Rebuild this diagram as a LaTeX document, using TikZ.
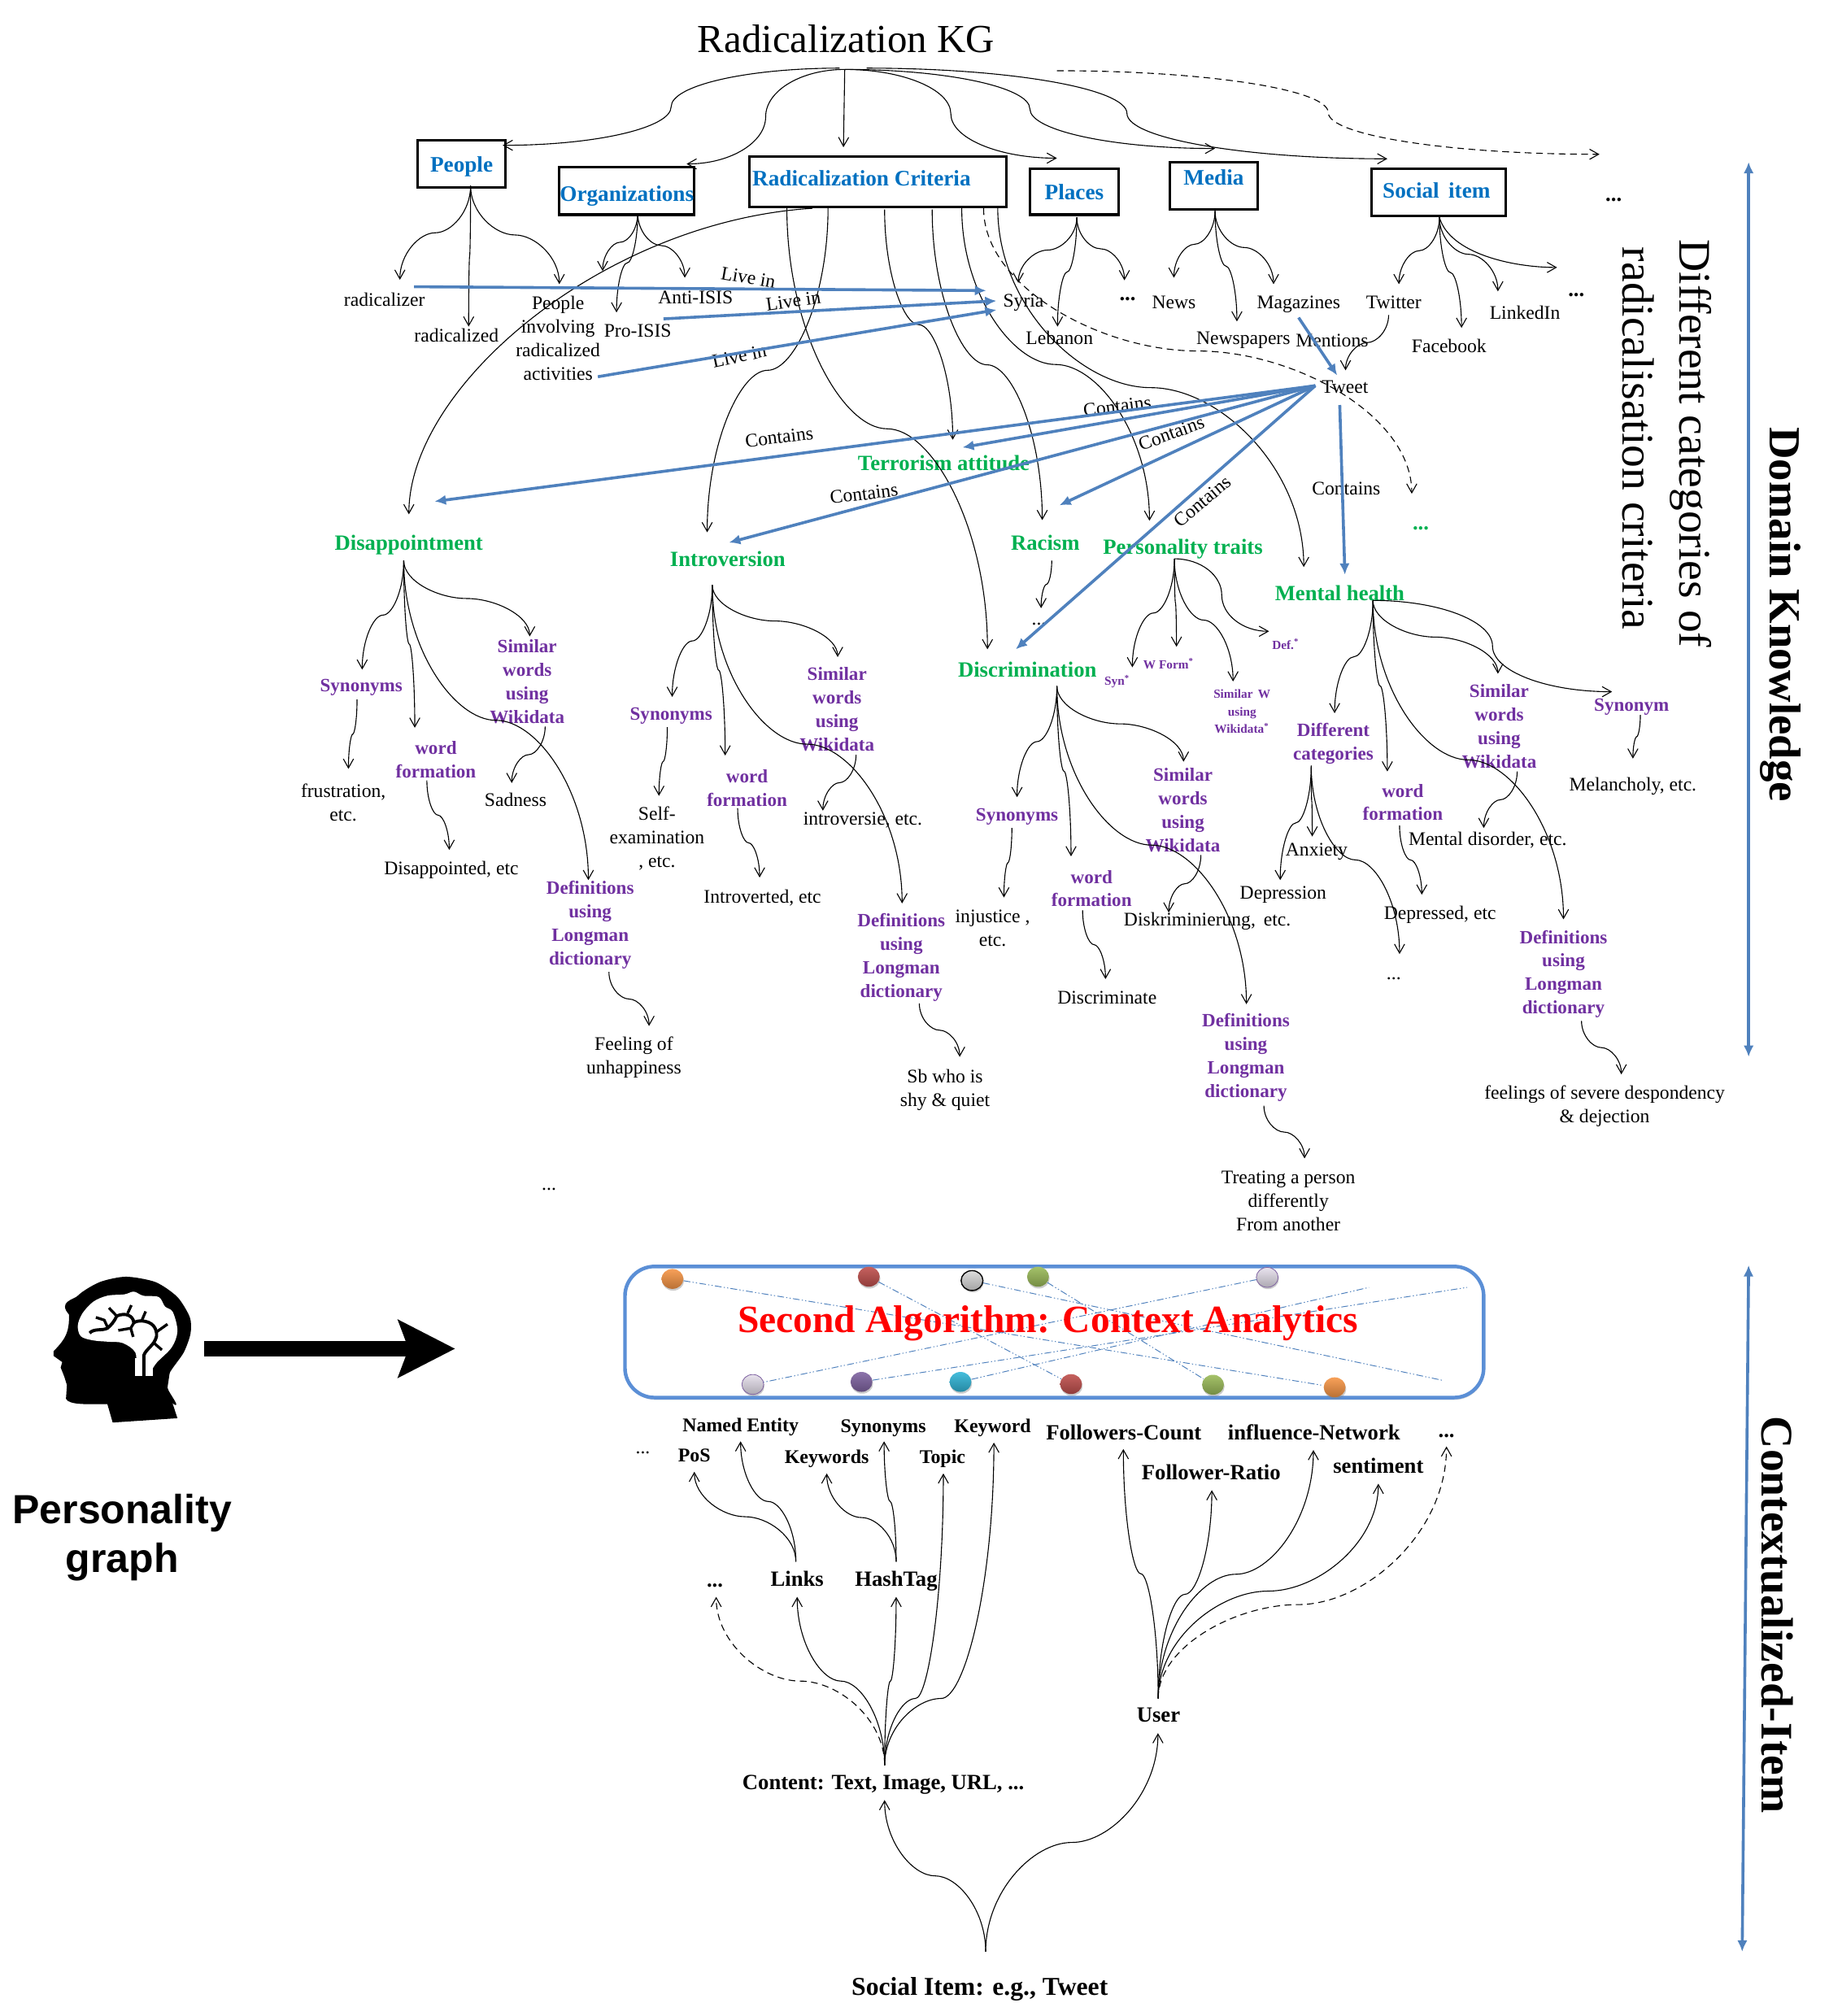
\documentclass[tikz,border=0pt]{standalone}
\usepackage{fontspec}
\setmainfont{Liberation Serif}
\newfontfamily\headfont{Liberation Sans}
\usetikzlibrary{calc,arrows.meta,shapes.geometric,shadows}
\definecolor{catblue}{HTML}{0070C0}
\definecolor{critgreen}{HTML}{00B050}
\definecolor{subpurple}{HTML}{7030A0}
\definecolor{arrowblue}{HTML}{4F81BD}
\definecolor{framblue}{HTML}{5B8FD6}
\definecolor{beadorange}{HTML}{F79646}
\definecolor{beadred}{HTML}{C0504D}
\definecolor{beadgreen}{HTML}{9BBB59}
\definecolor{beadpurple}{HTML}{8064A2}
\definecolor{beadcyan}{HTML}{31B6D8}
\definecolor{beadlilac}{HTML}{E6E0EC}
\definecolor{beadgrey}{HTML}{D9D9D9}
\newcommand{\vvia}[4][]{%
\path (#2) coordinate (s) (#3) coordinate (m) (#4) coordinate (e);
\draw [link,#1] (s) .. controls ($(s)!.55!(s |- m)$) and ($(m)!.45!(s |- m)$) .. (m) .. controls ($(m)!.45!(e |- m)$) and ($(e)!.55!(e |- m)$) .. (e);}
\newcommand{\vlink}[3][]{\vvia[#1]{#2}{$(#2)!.5!(#3)$}{#3}}
\newcommand{\hlink}[3][]{%
\path (#2) coordinate (s) (#3) coordinate (e) ($(s)!.5!(e)$) coordinate (m);
\draw [link,#1] (s) .. controls ($(s)!.55!(m |- s)$) and ($(m)!.55!(m |- s)$) .. (m) .. controls ($(m)!.55!(m |- e)$) and ($(e)!.55!(m |- e)$) .. (e);}
\begin{document}
\begin{tikzpicture}[x=0.02cm,y=0.02cm]
\tikzstyle{every node}+=[inner sep=0pt]
\tikzstyle{link}=[black,line width=0.4pt,-{Straight Barb[length=4pt,width=4.5pt]}]
\tikzstyle{bluearrow}=[arrowblue,line width=1.3pt,-{Latex[length=5pt,width=4.5pt]}]
\tikzstyle{term}=[align=center,text depth=0pt,font=\fontsize{8.5}{10.4}\selectfont]
\tikzstyle{rel}=[font=\fontsize{8.5}{10.4}\selectfont]
\tikzstyle{subterm}=[align=center,text depth=0pt,text=subpurple,font=\bfseries\fontsize{8.3}{10.4}\selectfont]
\tikzstyle{minor}=[align=center,text=subpurple,font=\bfseries\fontsize{5.5}{7.7}\selectfont]
\tikzstyle{crit}=[text depth=0pt,text=critgreen,font=\bfseries\fontsize{9.6}{11}\selectfont]
\tikzstyle{catbox}=[draw=black,line width=1.1pt,text depth=0pt,text=catblue,font=\bfseries\fontsize{9.8}{11}\selectfont]
\tikzstyle{small}=[text depth=0pt,font=\bfseries\fontsize{8.6}{10}\selectfont]
\tikzstyle{large}=[text depth=0pt,font=\bfseries\fontsize{9.6}{11}\selectfont]
\tikzstyle{side}=[rotate=-90,font=\fontsize{20}{22}\selectfont]
\tikzstyle{bead}=[ellipse,minimum width=0.34cm,minimum height=0.31cm,top color=#1!90!white,bottom color=#1!75!black,drop shadow={shadow xshift=0.3pt,shadow yshift=-0.8pt,opacity=0.4}]
\tikzstyle{thread}=[arrowblue,line width=0.35pt,dash pattern=on 3pt off 1pt on 0.5pt off 1pt on 0.5pt off 1pt]
\useasboundingbox (0,0) rectangle (1422,-1568);
\node [font=\fontsize{17.6}{20}\selectfont] (kg) at (658,-30) {Radicalization KG};
\node [catbox,minimum width=1.36cm,minimum height=0.74cm] (people) at (359,-127.5) {People};
\node [catbox,minimum width=2.1cm,minimum height=0.74cm] (org) at (487.5,-148.5) {\raisebox{-2pt}{Organizations}};
\node [catbox,minimum width=4cm,minimum height=0.78cm] (rc) at (683,-141.5) {\raisebox{3pt}{Radicalization Criteria\hspace{14.7pt}}};
\node [catbox,minimum width=1.38cm,minimum height=0.72cm] (places) at (835.5,-149) {Places};
\node [catbox,minimum width=1.36cm,minimum height=0.74cm] (media) at (944,-144.5) {\raisebox{7.5pt}{Media}};
\node [catbox,minimum width=2.08cm,minimum height=0.74cm] (social) at (1119,-149.5) {\raisebox{2pt}{Social\, item\hspace{2pt}}};
\node [large] (kgmore) at (1255,-155) {...};
\node [term] (radicalizer) at (299,-233) {radicalizer};
\node [term] (radicalized) at (355,-261) {radicalized};
\node [term] (peopleact) at (434,-263) {People\\involving\\radicalized\\activities};
\node [term] (antiisis) at (541,-231) {Anti-ISIS};
\node [term] (proisis) at (496,-257) {Pro-ISIS};
\node [term] (syria) at (796,-234) {Syria};
\node [term] (lebanon) at (824,-263) {Lebanon};
\node [large] (placesmore) at (877,-232.5) {...};
\node [term] (news) at (913,-235) {News};
\node [term] (newspapers) at (967,-263) {Newspapers};
\node [term] (magazines) at (1010,-235) {Magazines};
\node [term] (mentions) at (1036,-265) {Mentions};
\node [term] (twitter) at (1084,-235) {Twitter};
\node [term] (facebook) at (1127,-269) {Facebook};
\node [term] (linkedin) at (1186,-243) {LinkedIn};
\node [large] (socialmore) at (1226,-229) {...};
\node [term] (tweet) at (1046,-301) {Tweet};
\node [rel,rotate=-10] (livea) at (582,-216) {Live in};
\node [rel,rotate=8] (liveb) at (617,-234) {Live in};
\node [rel,rotate=12] (livec) at (575,-277) {Live in};
\node [rel,rotate=7] (containa) at (869,-316) {Contains};
\node [rel,rotate=20] (containb) at (911,-337) {Contains};
\node [rel,rotate=7] (containc) at (606,-340) {Contains};
\node [rel,rotate=7] (containd) at (672,-384) {Contains};
\node [rel,rotate=40] (containe) at (935,-390) {Contains};
\node [rel] (containf) at (1047,-380) {Contains};
\node [crit] (terror) at (734,-360) {Terrorism attitude};
\node [crit] (dis) at (318,-422) {Disappointment};
\node [crit] (intro) at (566,-435) {Introversion};
\node [crit] (racism) at (813,-422) {Racism};
\node [crit] (pers) at (920,-425) {Personality traits};
\node [crit] (dsc) at (799,-521) {Discrimination};
\node [crit] (mental) at (1042,-461) {Mental health};
\node [crit] (critmore) at (1105,-411) {...};
\node [subterm] (dissim) at (410,-530) {Similar\\words\\using\\Wikidata};
\node [subterm] (dissyn) at (281,-533) {Synonyms};
\node [subterm] (disword) at (339,-591) {word\\formation};
\node [subterm] (disdef) at (459,-718) {Definitions\\using\\Longman\\dictionary};
\node [term] (disfrus) at (267,-624) {frustration,\\etc.};
\node [term] (dissad) at (401,-622) {Sadness};
\node [term] (disform) at (351,-675) {Disappointed, etc};
\node [term] (disfeel) at (493,-821) {Feeling of\\unhappiness};
\node [subterm] (intsim) at (651,-551.5) {Similar\\words\\using\\Wikidata};
\node [subterm] (intsyn) at (522,-555) {Synonyms};
\node [subterm] (intword) at (581,-613) {word\\formation};
\node [subterm] (intdef) at (701,-743) {Definitions\\using\\Longman\\dictionary};
\node [term] (intself) at (511,-651) {Self-\\examination\\, etc.};
\node [term] (intrel) at (671,-637) {introversie, etc.};
\node [term] (intform) at (593,-697) {Introverted, etc};
\node [term] (intshy) at (735,-846) {Sb who is\\shy \& quiet};
\node [subterm] (dscsim) at (920,-630) {Similar\\words\\using\\Wikidata};
\node [subterm] (dscsyn) at (791,-634) {Synonyms};
\node [subterm] (dscword) at (849,-691) {word\\formation};
\node [subterm] (dscdef) at (969,-821) {Definitions\\using\\Longman\\dictionary};
\node [term] (dscinj) at (772,-722) {injustice ,\\etc.};
\node [term] (dscsub) at (939,-715) {Diskriminierung,\, etc.};
\node [term] (dscform) at (861,-776) {Discriminate};
\node [term] (dsctreat) at (1002,-934) {Treating a person\\differently\\From another};
\node [term] (racmore) at (808,-485) {...};
\node [minor] (persyn) at (869,-530) {Syn\textsuperscript{*}};
\node [minor] (perform) at (909,-516) {W Form\textsuperscript{*}};
\node [minor] (perdef) at (1000,-501) {Def.\textsuperscript{*}};
\node [minor] (persim) at (966,-553.5) {Similar\, W\\using\\Wikidata\textsuperscript{*}};
\node [subterm] (mhcat) at (1037,-577) {Different\\categories};
\node [subterm] (mhword) at (1091,-624) {word\\formation};
\node [subterm] (mhsim) at (1166,-565) {Similar\\words\\using\\Wikidata};
\node [subterm] (mhsyn) at (1269,-548) {Synonym};
\node [subterm] (mhdef) at (1216,-756) {Definitions\\using\\Longman\\dictionary};
\node [term] (melan) at (1270,-610) {Melancholy, etc.};
\node [term] (mhdis) at (1157,-652) {Mental disorder, etc.};
\node [term] (anxiety) at (1024,-661) {Anxiety};
\node [term] (depression) at (998,-694) {Depression};
\node [term] (depressed) at (1120,-710) {Depressed, etc};
\node [term] (catmore) at (1084,-761) {...};
\node [term] (mhfeel) at (1248,-859) {feelings of severe despondency\\\& dejection};
\node [term] (kbmore) at (427,-925) {...};
\node [side] (sidea) at (1315,-345) {Different categories of};
\node [side] (sideb) at (1274,-341) {radicalisation criteria};
\node [side,font=\bfseries\fontsize{19.7}{22}\selectfont] (sidec) at (1385,-478) {Domain Knowledge};
\node [side,font=\bfseries\fontsize{20}{22}\selectfont] (sided) at (1382,-1256) {Contextualized-Item};
\coordinate (kgbase) at (657,-54);
\coordinate (peoplebase) at (366,-144.5);
\coordinate (orgbase) at (496,-166);
\coordinate (placesbase) at (837.5,-169);
\coordinate (mediabase) at (945,-164);
\coordinate (socialbase) at (1119.5,-169);
\coordinate (tweetbase) at (1023,-300);
\coordinate (disbase) at (314,-436);
\coordinate (intbase) at (554,-455);
\coordinate (dscbase) at (822,-533.6);
\coordinate (perbase) at (913.4,-434.6);
\coordinate (mhbase) at (1067.8,-467);
\coordinate (catbase) at (1019.8,-595.6);
\hlink{$(kgbase)+(-4,1)$}{$(people)+(32,14.5)$}
\hlink{kgbase}{$(org)+(46.5,21)$}
\draw [link] (kgbase) -- ($(rc)+(-27,27)$);
\hlink{kgbase}{$(places)+(-13.5,26)$}
\hlink{kgbase}{$(media)+(1,29)$}
\hlink{$(kgbase)+(17,1)$}{$(social)+(-40,26)$}
\hlink[densely dashed]{$(kgbase)+(165,-1)$}{$(kgmore)+(-11,35)$}
\vlink{peoplebase}{$(radicalizer)+(12,15.4)$}
\vlink{peoplebase}{$(radicalized)+(9.5,7)$}
\vlink{peoplebase}{$(peopleact)+(1,42)$}
\vlink{orgbase}{$(peopleact)+(34.7,52.2)$}
\vlink{orgbase}{$(proisis)+(-16.5,14)$}
\vlink{orgbase}{$(antiisis)+(-8.4,15)$}
\vlink{placesbase}{$(syria)+(-4,14)$}
\vlink{placesbase}{$(lebanon)+(-1.5,9)$}
\vlink{placesbase}{$(placesmore)+(-2.5,14.5)$}
\vlink{mediabase}{$(news)+(0,19)$}
\vlink{mediabase}{$(newspapers)+(-5,13)$}
\vlink{mediabase}{$(magazines)+(-19.5,14)$}
\vlink{socialbase}{$(twitter)+(4,14)$}
\vlink{socialbase}{$(facebook)+(9.7,14)$}
\vlink{socialbase}{$(linkedin)+(-21,16.4)$}
\draw [link] (socialbase) .. controls ($(socialbase)+(8,-28)$) and ($(socialmore)+(-50,21)$) .. ($(socialmore)+(-15,21)$);
\vlink{$(twitter)+(-4,-10)$}{$(tweet)+(0.5,13)$}
\draw [link] ($(rc)+(-51,-20.5)$) .. controls (470,-172) and (318,-300) .. ($(dis)+(0,22)$);
\vlink{$(rc)+(-39,-20.5)$}{$(intro)+(-16,21)$}
\vlink{$(rc)+(-71,-20.5)$}{$(dsc)+(-31,16)$}
\vlink{$(rc)+(5,-21.5)$}{$(terror)+(7,18)$}
\vlink{$(rc)+(42,-21.5)$}{$(racism)+(-2.4,17.5)$}
\vlink{$(rc)+(65,-20.5)$}{$(pers)+(-26,20)$}
\vlink{$(rc)+(93,-20.5)$}{$(mental)+(-28,20)$}
\vlink[densely dashed]{$(rc)+(82,-20.5)$}{$(critmore)+(-7,27)$}
\draw [bluearrow] ($(radicalizer)+(23,10)$) -- ($(syria)+(-29,8)$);
\draw [bluearrow] ($(proisis)+(20,9)$) -- ($(syria)+(-21,0)$);
\draw [bluearrow] ($(peopleact)+(31,-30)$) -- ($(syria)+(-21,-7)$);
\draw [bluearrow] ($(magazines)+(0,-12)$) -- ($(tweet)+(-6,9)$);
\draw [bluearrow] (tweetbase) -- ($(dis)+(20,32)$);
\draw [bluearrow] (tweetbase) -- ($(intro)+(1,13)$);
\draw [bluearrow] (tweetbase) -- ($(terror)+(14.6,12)$);
\draw [bluearrow] (tweetbase) -- ($(racism)+(11,29)$);
\draw [bluearrow] (tweetbase) -- ($(dsc)+(-9,16)$);
\draw [bluearrow] ($(tweet)+(-4,-14)$) -- ($(mental)+(4,14)$);
\vlink{disbase}{$(dissyn)+(0.7,12.2)$}
\vlink{disbase}{$(disword)+(-16.4,25)$}
\vlink{disbase}{$(dissim)+(2,35)$}
\vlink{disbase}{$(disdef)+(-1.4,33.5)$}
\vlink{$(dissyn)+(-3.3,-11)$}{$(disfrus)+(4,26)$}
\vlink{$(disword)+(-7,-16)$}{$(disform)+(-1.6,14)$}
\vlink{$(dissim)+(14,-35)$}{$(dissad)+(-3,13)$}
\vlink{$(disdef)+(14.6,-38)$}{$(disfeel)+(11.8,23)$}
\vlink{intbase}{$(intsyn)+(0.8,13)$}
\vlink{intbase}{$(intword)+(-17,25.4)$}
\vlink{intbase}{$(intsim)+(0.5,40.5)$}
\vlink{intbase}{$(intdef)+(0.6,40.4)$}
\vlink{$(intsyn)+(-3,-10.6)$}{$(intself)+(1.5,32)$}
\vlink{$(intword)+(-7.3,-15.6)$}{$(intform)+(-2.2,14.5)$}
\vlink{$(intsim)+(14.8,-35.5)$}{$(intrel)+(-31,6.5)$}
\vlink{$(intdef)+(14,-37.5)$}{$(intshy)+(11.4,24)$}
\vlink{dscbase}{$(dscsyn)+(0,14)$}
\vlink{dscbase}{$(dscword)+(-16,25)$}
\vlink{dscbase}{$(dscsim)+(0.5,37.6)$}
\vlink{dscbase}{$(dscdef)+(0.4,40)$}
\vlink{$(dscsyn)+(-4,-10)$}{$(dscinj)+(8.8,24)$}
\vlink{$(dscword)+(-7,-17)$}{$(dscform)+(-1.2,14.5)$}
\vlink{$(dscsim)+(14,-35)$}{$(dscsub)+(-30,5.3)$}
\vlink{$(dscdef)+(14,-39)$}{$(dsctreat)+(12.6,33)$}
\vlink{$(racism)+(5,-14)$}{$(racmore)+(1.7,12)$}
\vlink{perbase}{$(persyn)+(11.7,11)$}
\vlink{perbase}{$(perform)+(6,13)$}
\vlink{perbase}{$(persim)+(-7,23.5)$}
\hlink{perbase}{$(perdef)+(-13,10)$}
\vlink{mhbase}{$(mhcat)+(1,22.3)$}
\vlink{mhbase}{$(mhword)+(-12,24)$}
\vlink{mhbase}{$(mhsim)+(-1,41)$}
\hlink{mhbase}{$(mhsyn)+(-15.2,10)$}
\vlink{mhbase}{$(mhdef)+(0,41)$}
\vlink{catbase}{$(anxiety)+(-3.4,10.4)$}
\vlink{catbase}{$(depression)+(-2.3,9.5)$}
\vlink{catbase}{$(catmore)+(4.5,19)$}
\vlink{$(mhword)+(-2.5,-18)$}{$(depressed)+(-14.2,14.2)$}
\vlink{$(mhsim)+(14,-35)$}{$(mhdis)+(-3,8)$}
\vlink{$(mhsyn)+(6.8,-8)$}{$(melan)+(0,20)$}
\vlink{$(mhdef)+(14,-38)$}{$(mhfeel)+(13,23.4)$}
\coordinate (domtop) at (1360,-126);
\coordinate (dombot) at (1360,-822);
\draw [bluearrow,{Latex[length=5pt,width=4.5pt]}-{Latex[length=5pt,width=4.5pt]}] (domtop) -- (dombot);
\coordinate (itemtop) at (1360,-984);
\coordinate (itembot) at (1355,-1518);
\draw [bluearrow,{Latex[length=5pt,width=4.5pt]}-{Latex[length=5pt,width=4.5pt]}] (itemtop) -- (itembot);
\node [draw=framblue,line width=1.6pt,rounded corners=0.46cm,fill=white,minimum width=13.36cm,minimum height=2.04cm,drop shadow={shadow xshift=0.3pt,shadow yshift=-1pt,opacity=0.35}] (algobox) at (820,-1036) {};
\node [bead=beadorange] (beada) at (523,-994.7) {};
\node [bead=beadred] (beadb) at (675.7,-993) {};
\node [bead=beadgrey,draw=black,line width=0.5pt] (beadc) at (756,-996) {};
\node [bead=beadgreen] (beadd) at (807.3,-993) {};
\node [bead=beadlilac,draw=beadpurple,line width=0.3pt] (beade) at (985.6,-993.5) {};
\node [bead=beadlilac,draw=beadpurple,line width=0.3pt] (beadf) at (585.5,-1076.8) {};
\node [bead=beadpurple] (beadg) at (670,-1074.8) {};
\node [bead=beadcyan] (beadh) at (747,-1074.8) {};
\node [bead=beadred] (beadi) at (833,-1076.5) {};
\node [bead=beadgreen] (beadj) at (943.4,-1077) {};
\node [bead=beadorange] (beadk) at (1038,-1079) {};
\coordinate (threadc) at (1123,-1073.8);
\coordinate (threadg) at (1141,-1001.3);
\coordinate (threadh) at (1064.7,-1001.3);
\draw [thread] (beada) -- (beadk);
\draw [thread] (beadb) -- (beadi);
\draw [thread] (beadc) -- (threadc);
\draw [thread] (beadd) -- (beadj);
\draw [thread] (beade) -- (beadf);
\draw [thread] (beadg) -- (threadg);
\draw [thread] (beadh) -- (threadh);
\node [text=red,font=\bfseries\fontsize{17.1}{19}\selectfont] (algotext) at (815,-1029) {Second Algorithm: Context Analytics};
\node [small] (ne) at (576,-1108) {Named Entity};
\node [small] (isyn) at (687,-1109) {Synonyms};
\node [small] (keyword) at (772,-1109) {Keyword};
\node [large] (fc) at (874,-1114) {Followers-Count};
\node [large] (inf) at (1022,-1114) {influence-Network};
\node [large] (umore) at (1125,-1116.5) {...};
\node [term] (posmore) at (500,-1130) {...};
\node [small] (pos) at (540,-1132) {PoS};
\node [small] (keywords) at (643,-1133) {Keywords};
\node [small] (topic) at (733,-1133) {Topic};
\node [large] (fr) at (942,-1145) {Follower-Ratio};
\node [large] (sent) at (1072,-1140) {sentiment};
\node [large] (lmore) at (556,-1233) {...};
\node [large] (links) at (620,-1228) {Links};
\node [large] (hash) at (697,-1228) {HashTag};
\node [large] (content) at (687,-1386) {Content: Text, Image, URL, ...};
\node [large] (user) at (901,-1334) {User};
\node [text depth=0pt,font=\bfseries\fontsize{11.4}{12}\selectfont] (item) at (762,-1545) {Social Item: e.g., Tweet};
\coordinate (itembase) at (766.6,-1518);
\coordinate (contentbase) at (688,-1373);
\coordinate (linksbase) at (619,-1214.6);
\coordinate (hashbase) at (697,-1214.6);
\coordinate (userbase) at (900.8,-1321);
\vlink{itembase}{$(content)+(1,-14)$}
\vlink{itembase}{$(user)+(-0.4,-14)$}
\vlink[densely dashed]{contentbase}{$(lmore)+(1,-9)$}
\vlink{contentbase}{$(links)+(0,-14)$}
\vlink{contentbase}{$(hash)+(0,-14)$}
\vvia{contentbase}{$(contentbase)+(24,52)$}{$(topic)+(0.7,-13)$}
\vvia{contentbase}{$(contentbase)+(44,52)$}{$(keyword)+(1,-13)$}
\vlink{linksbase}{$(pos)+(0,-12.7)$}
\vlink{linksbase}{$(ne)+(0,-13)$}
\vlink{hashbase}{$(keywords)+(0,-13)$}
\vlink{hashbase}{$(isyn)+(0.6,-12)$}
\vlink{userbase}{$(fc)+(-0.3,-13)$}
\vlink{userbase}{$(fr)+(0.5,-14)$}
\vlink{userbase}{$(inf)+(-0.5,-13.8)$}
\vlink{userbase}{$(sent)+(0,-14)$}
\vvia[densely dashed]{userbase}{$(userbase)+(109,73)$}{$(umore)+(0,-8.5)$}
\begin{scope}[shift={(0,-967.7)},xscale=0.2421,yscale=0.2108]
\fill [black] plot [smooth cycle,tension=0.45] coordinates {(222,-260) (250,-190) (320,-140) (405,-120) (500,-140) (570,-195) (610,-270) (612,-330) (590,-400) (545,-475) (538,-530) (552,-585)} -- cycle;
\fill [black] (222,-260) .. controls (222,-320) and (215,-345) .. (172,-395) -- (172,-412) -- (200,-435) -- (195,-455) -- (207,-490) -- (215,-520) -- (212,-570) .. controls (220,-595) and (290,-590) .. (345,-590) -- (362,-658) -- (570,-642) -- (538,-530) -- (545,-475) -- (400,-200) -- cycle;
\fill [white] plot [smooth cycle,tension=0.55] coordinates {(250,-300) (265,-255) (300,-212) (345,-190) (400,-185) (430,-175) (460,-190) (510,-195) (530,-230) (555,-250) (570,-320) (552,-380) (505,-435) (480,-470) (440,-470) (435,-400) (395,-365) (350,-360) (300,-355) (260,-340)};
\fill [white] (435,-420) rectangle (490,-487);
\draw [black,line width=1.4pt] (462,-487) -- (462,-410) .. controls (470,-385) and (495,-375) .. (503,-340) .. controls (505,-310) and (490,-285) .. (455,-283) .. controls (445,-283) and (435,-285) .. (430,-290) .. controls (428,-265) and (405,-250) .. (375,-265) .. controls (365,-290) and (355,-300) .. (345,-310) .. controls (330,-320) and (300,-310) .. (288,-328);
\draw [black,line width=1.2pt] (375,-265) -- (350,-235) (410,-255) -- (422,-225) (455,-283) -- (468,-248) (505,-322) -- (538,-295) (430,-290) -- (420,-310) -- (428,-342) (420,-310) -- (380,-318) (495,-365) -- (520,-390) (345,-305) -- (335,-280) -- (308,-270);
\end{scope}
\coordinate (headfront) at (158.5,-1049);
\coordinate (headarrow) at (354,-1049);
\draw [black,line width=7pt,-{Stealth[length=25pt,width=25pt,inset=4.4pt]}] (headfront) -- (headarrow);
\node [align=center,font=\headfont\bfseries\fontsize{18}{21.8}\selectfont] (persgraph) at (95,-1196) {Personality\\graph};
\end{tikzpicture}
\end{document}
